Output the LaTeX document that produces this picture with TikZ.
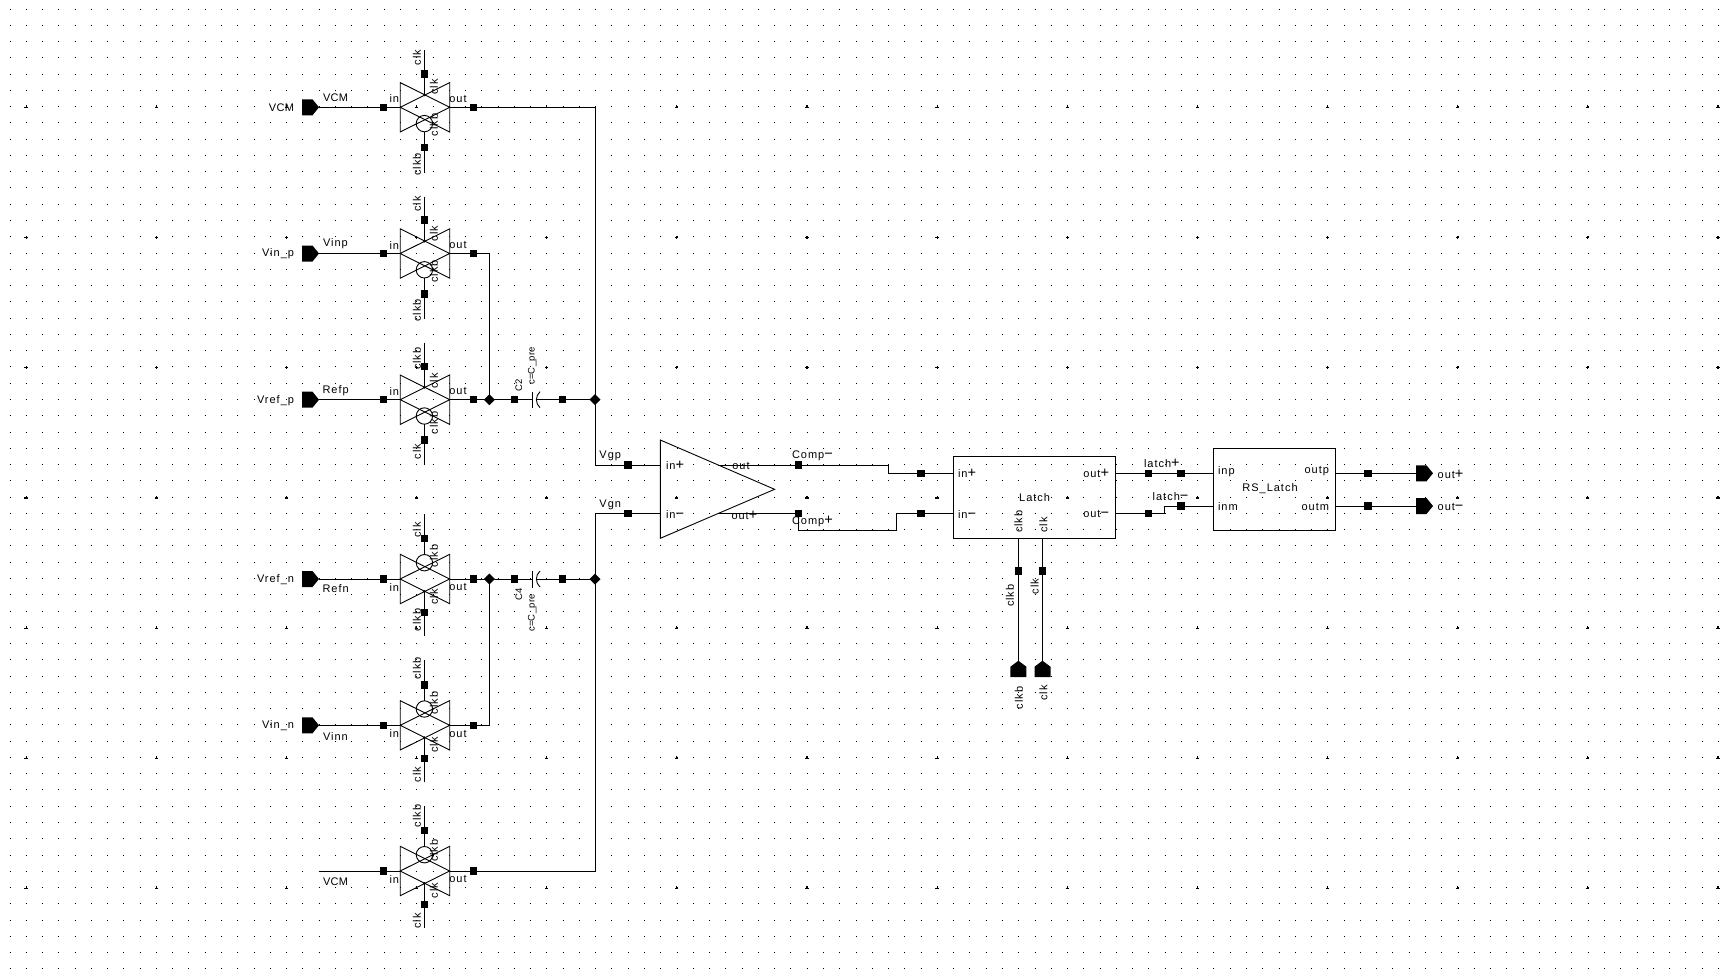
\documentclass[tikz,border=0pt]{standalone}
\usepackage{fontspec}
\newfontfamily\labf[LetterSpace=9]{Liberation Sans}
\newfontfamily\labn[LetterSpace=3]{Liberation Sans}
\newcommand\pl{{\fontsize{14.5}{14.5}\selectfont +}}
\newcommand\mi{{\fontsize{14.5}{14.5}\selectfont −}}
\tikzset{
  griddots/.style={line width=1pt,dash pattern=on 1pt off 15.27pt},
  wire/.style={line width=1pt,draw=black,line cap=butt},
  sym/.style={line width=0.9pt,draw=black,line join=miter},
  mk/.style={rectangle,fill=black,minimum size=7.4pt,inner sep=0pt,outer sep=0pt},
  junc/.style={diamond,fill=black,minimum size=11pt,inner sep=0pt,outer sep=0pt},
  lab/.style={font=\labf\fontsize{11}{12}\selectfont,inner sep=0pt,outer sep=0pt,text=black},
  vlab/.style={lab,rotate=90},
  nlab/.style={lab,font=\labn\fontsize{11}{12}\selectfont},
  slab/.style={vlab,font=\labn\fontsize{9.5}{10}\selectfont},
}
\usetikzlibrary{shapes.geometric}
% transmission gate: name, y, bubble (1 bottom, -1 top), outer top text, its y, outer bottom text, its y
\newcommand\tgate[7]{%
  \begin{scope}[shift={(424.4,#2)},yscale=#3]
    \draw[sym] (-24.2,-24.7) -- (-24.2,24.7) -- (25.3,0) -- cycle;
    \draw[sym] (25.3,-24.7) -- (25.3,24.7) -- (-24.2,0) -- cycle;
    \draw[sym] (0,16.3) circle (8.2pt);
    \fill (0,-12.4) circle (1.5pt);
    \coordinate (#1in) at (-24.2,0);
    \coordinate (#1out) at (25.3,0);
    \coordinate (#1g1) at (0,-12.4);
    \coordinate (#1g2) at (0,24.5);
    \coordinate (#1e1) at (0,-57);
    \coordinate (#1e2) at (0,65.5);
    \draw[wire] (#1e1) -- (#1g1);
    \draw[wire] (#1g2) -- (#1e2);
    \node[mk] (#1m1) at (0,-33.4) {};
    \node[mk] (#1m2) at (0,40.4) {};
  \end{scope}
  \node[vlab] (#1tl) at (417,#2+#5) {#4};
  \node[vlab] (#1bl) at (417,#2+#7) {#6};
  \node[lab] (#1inl) at (394.3,#2-8.3*#3) {in};
  \node[lab] (#1outl) at (458,#2-8.3*#3) {out};
}
\newcommand\pinR[3]{%
  \fill (#2,#3-8) -- (#2+10.5,#3-8) -- (#2+17,#3) -- (#2+10.5,#3+8) -- (#2,#3+8) -- cycle;
  \coordinate (#1b) at (#2,#3);
  \coordinate (#1) at (#2+17,#3);
}
\newcommand\pinU[3]{%
  \fill (#2-8,#3+16.5) -- (#2-8,#3+6) -- (#2,#3) -- (#2+8,#3+6) -- (#2+8,#3+16.5) -- cycle;
  \coordinate (#1) at (#2,#3);
}
\begin{document}
\begin{tikzpicture}[x=1pt,y=-1pt]
\useasboundingbox (0,0) rectangle (1721,978);
% grid
\foreach \r in {0,...,59}{
  \draw[griddots] (9.5,{9+16.27*\r}) -- (1721,{9+16.27*\r});
}
\foreach \i in {0,...,13}{
  \foreach \j in {0,...,6}{
    \fill ({26-1.6+130.15*\i},{107-0.1+130.15*\j}) rectangle +(3.2,1.2);
    \fill ({26-0.5+130.15*\i},{107-1.6+130.15*\j}) rectangle +(1.1,3);
  }
}
% switches
\tgate{sa}{107.3}{1}{clk}{-49.6}{clkb}{57}
\tgate{sb}{253.5}{1}{clk}{-49.6}{clkb}{57}
\tgate{sc}{399.7}{1}{clkb}{-41}{clk}{52}
\tgate{sd}{579}{-1}{clk}{-49}{clkb}{41}
\tgate{se}{725.3}{-1}{clkb}{-57}{clk}{49}
\tgate{sf}{871}{-1}{clkb}{-55}{clk}{50}
% inner gate labels
\node[vlab] (ia1) at (434,87) {clk};
\node[vlab] (ia2) at (434,125) {clkb};
\node[vlab] (ib1) at (434,233.5) {clk};
\node[vlab] (ib2) at (434,271.5) {clkb};
\node[vlab] (ic1) at (434,381) {clk};
\node[vlab] (ic2) at (434,423) {clkb};
\node[vlab] (id1) at (434,556) {clkb};
\node[vlab] (id2) at (434,597) {clk};
\node[vlab] (ie1) at (434,703) {clkb};
\node[vlab] (ie2) at (434,745) {clk};
\node[vlab] (if1) at (434,850.7) {clkb};
\node[vlab] (if2) at (434,890.7) {clk};
% pins
\pinR{pa}{302}{107.3}
\pinR{pb}{302}{253.5}
\pinR{pc}{302}{399.7}
\pinR{pd}{302}{579}
\pinR{pe}{302}{725.3}
\coordinate (pf) at (319,871);
\node[nlab,anchor=east] (lpa) at (294,108) {VCM};
\node[lab,anchor=east] (lpb) at (294,254) {Vin\_p};
\node[lab,anchor=east] (lpc) at (294,401) {Vref\_p};
\node[lab,anchor=east] (lpd) at (294,580) {Vref\_n};
\node[lab,anchor=east] (lpe) at (294,726) {Vin\_n};
\node[nlab,anchor=west] (na) at (323,98) {VCM};
\node[lab,anchor=west] (nb) at (323,244) {Vinp};
\node[lab,anchor=west] (nc) at (322.5,391) {Refp};
\node[lab,anchor=west] (nd) at (322.5,589) {Refn};
\node[lab,anchor=west] (ne) at (323,737) {Vinn};
\node[nlab,anchor=west] (nf) at (323,882) {VCM};
% key points
\coordinate (jp) at (595,399.7);
\coordinate (jn) at (595,579);
\coordinate (jcp) at (489.3,399.7);
\coordinate (jcn) at (489.3,579);
\coordinate (aip) at (660.3,465);
\coordinate (ain) at (660.3,513.7);
\coordinate (aop) at (718.3,465);
\coordinate (aon) at (718.3,513.7);
\coordinate (tip) at (774.6,489.3);
\coordinate (c2a) at (532.3,399.7);
\coordinate (c2b) at (536.3,399.7);
\coordinate (c4a) at (532.3,579);
\coordinate (c4b) at (536.3,579);
% wires
\foreach \p/\s in {pa/sa,pb/sb,pc/sc,pd/sd,pe/se,pf/sf}{ \draw[wire] (\p) -- (\s in); }
\draw[wire] (saout) -| (jp);
\draw[wire] (sbout) -| (jcp);
\draw[wire] (scout) -- (c2a);
\draw[wire] (c2b) -- (jp);
\draw[wire] (sdout) -- (c4a);
\draw[wire] (c4b) -- (jn);
\draw[wire] (seout) -| (jcn);
\draw[wire] (sfout) -| (jn);
\draw[wire] (jp) |- (aip);
\draw[wire] (jn) |- (ain);
% capacitors
\draw[sym] (532.3,391.7) -- (532.3,408.3);
\draw[sym] (540,391.7) .. controls (535.2,396) and (535.2,403.4) .. (540,407.7);
\draw[sym] (532.3,571) -- (532.3,587.6);
\draw[sym] (540,571) .. controls (535.2,575.3) and (535.2,582.7) .. (540,587);
\node[slab] (c2n) at (518.8,385.7) {C2};
\node[slab] (c2v) at (532.3,366) {c=C\_pre};
\node[slab] (c4n) at (518.8,594) {C4};
\node[slab] (c4v) at (532.3,613) {c=C\_pre};
% comparator
\draw[sym] (660.3,440) -- (660.3,538.3) -- (tip) -- cycle;
\node[lab,anchor=west] (a1) at (666,465.5) {in\pl};
\node[lab,anchor=west] (a2) at (666,515) {in\mi};
\node[lab] (a3) at (741,466) {out};
\node[lab,anchor=west] (a4) at (731.5,515) {out\pl};
\node[lab,anchor=east] (vgp) at (621,456) {Vgp};
\node[lab,anchor=east] (vgn) at (621,505) {Vgn};
\node[lab,anchor=west] (cm) at (792,455.7) {Comp\mi};
\node[lab,anchor=west] (cp) at (792,521) {Comp\pl};
% latch
\node[sym,draw,rectangle,minimum width=162.2pt,minimum height=82pt,inner sep=0pt,outer sep=0pt,anchor=north west] (latch) at (953.3,456.3) {};
\node[lab,anchor=west] (l1) at (958,473.7) {in\pl};
\node[lab,anchor=west] (l2) at (958,515) {in\mi};
\node[lab,anchor=east] (l3) at (1109,473.5) {out\pl};
\node[lab,anchor=east] (l4) at (1109,514) {out\mi};
\node[lab] (l5) at (1034.6,497.7) {Latch};
\node[vlab] (l6) at (1018.4,521.7) {clkb};
\node[vlab] (l7) at (1043.5,525) {clk};
\coordinate (lip) at (953.3,473.3);
\coordinate (lin) at (953.3,513.7);
\coordinate (lop) at (1115.5,473.3);
\coordinate (lon) at (1115.5,513.7);
\coordinate (lck) at (1018.4,538.3);
\coordinate (lcl) at (1042.5,538.3);
\draw[wire] (aop) -- (888.2,465) -- (888.2,473.3) -- (lip);
\draw[wire] (aon) -- (798.7,513.7) -- (798.7,530) -- (896,530) -- (896,513.7) -- (lin);
\pinU{pck}{1018.4}{660.7}
\pinU{pcl}{1042.5}{660.7}
\draw[wire] (lck) -- (pck);
\draw[wire] (lcl) -- (pcl);
\node[vlab] (w1) at (1010,595.7) {clkb};
\node[vlab] (w2) at (1034.6,586.7) {clk};
\node[vlab] (w3) at (1019,698) {clkb};
\node[vlab] (w4) at (1043.5,693) {clk};
% RS latch
\node[sym,draw,rectangle,minimum width=122.4pt,minimum height=81.3pt,inner sep=0pt,outer sep=0pt,anchor=north west] (rs) at (1213.3,448.7) {};
\node[lab,anchor=west] (r1) at (1218,471.7) {inp};
\node[lab,anchor=west] (r2) at (1218,506.7) {inm};
\node[lab,anchor=east] (r3) at (1329,471.3) {outp};
\node[lab,anchor=east] (r4) at (1329,506.7) {outm};
\node[lab] (r5) at (1270,489) {RS\_Latch};
\coordinate (rip) at (1213.3,473.3);
\coordinate (rin) at (1213.3,506);
\coordinate (rop) at (1335.7,473.3);
\coordinate (ron) at (1335.7,506);
\draw[wire] (lop) -- (rip);
\draw[wire] (lon) -- (1164.3,513.7) -- (1164.3,506) -- (rin);
\pinR{ppo}{1416}{473.3}
\pinR{pno}{1416}{506}
\draw[wire] (rop) -- (ppob);
\draw[wire] (ron) -- (pnob);
\node[lab,anchor=west] (o1) at (1437.7,474) {out\pl};
\node[lab,anchor=west] (o2) at (1437.7,506.7) {out\mi};
\node[lab,anchor=west] (la1) at (1144,463.3) {latch\pl};
\node[lab,anchor=west] (la2) at (1152.7,496.7) {latch\mi};
% wire marks
\foreach \n/\x/\y in {
  a/383.7/107.3,b/383.7/253.5,c/383.7/399.7,d/383.7/579,e/383.7/725.3,f/383.7/871}{
  \node[mk] (mi\n) at (\x,\y) {};
}
\foreach \n/\x/\y in {
  a/473.3/107.3,b/473.3/253.5,c/473.3/399.7,d/473.3/579,e/473.3/725.3,f/473.3/871}{
  \node[mk] (mo\n) at (\x,\y) {};
}
\foreach \n/\x/\y in {
  c2l/514.3/399.7,c2r/562.7/399.7,c4l/514.3/579,c4r/562.7/579,
  vp/628/465,vn/628/513.7,cmm/798.7/465,cpp/798.7/513.7,
  li1/921/473.3,li2/921/513.7,ck/1018.4/571,cl/1042.5/571,
  lo1/1148.3/473.3,lo2/1148.3/513.7,ri1/1181/473.3,ri2/1181/506,
  ro1/1368/473.3,ro2/1368/506}{
  \node[mk] (m\n) at (\x,\y) {};
}
\node[junc] (j1) at (jcp) {};
\node[junc] (j2) at (jp) {};
\node[junc] (j3) at (jcn) {};
\node[junc] (j4) at (jn) {};
\end{tikzpicture}
\end{document}
